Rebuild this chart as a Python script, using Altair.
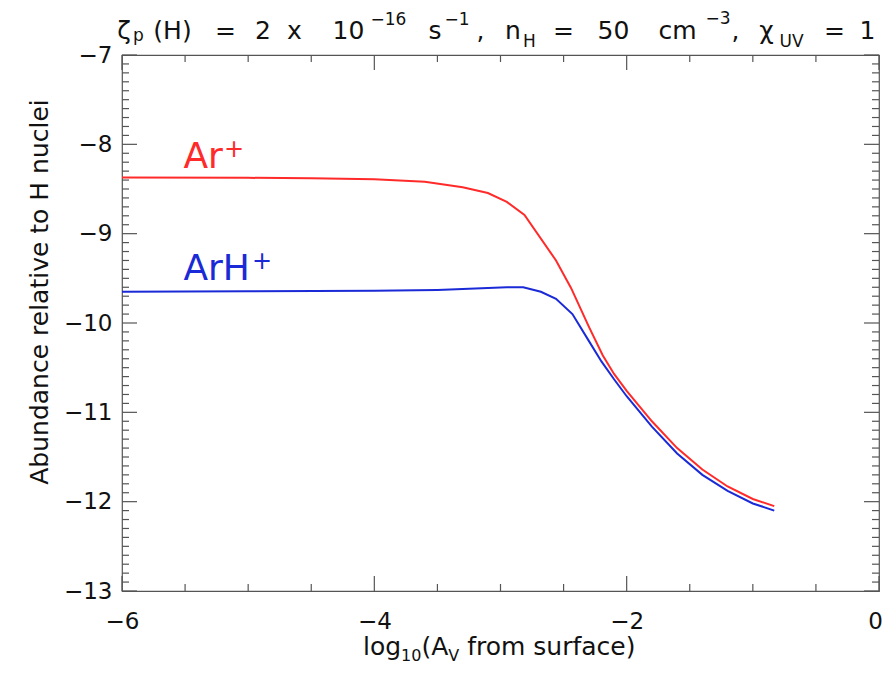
import altair as alt
import pandas as pd
import numpy as np

# ---------------- data ----------------
red_x = [-6.0, -5.0, -4.5, -4.0, -3.6, -3.3, -3.1, -2.95, -2.81, -2.56, -2.44, -2.3,
         -2.19, -2.1, -2.0, -1.8, -1.6, -1.4, -1.2, -1.0, -0.83]
red_y = [-8.37, -8.375, -8.38, -8.39, -8.42, -8.48, -8.545, -8.645, -8.79, -9.30, -9.61,
         -10.04, -10.36, -10.57, -10.76, -11.10, -11.40, -11.64, -11.83, -11.97, -12.05]

blue_x = [-6.0, -5.0, -4.0, -3.5, -3.2, -2.95, -2.82, -2.68, -2.56, -2.43, -2.3, -2.2,
          -2.1, -2.0, -1.8, -1.6, -1.4, -1.2, -1.0, -0.83]
blue_y = [-9.65, -9.645, -9.64, -9.63, -9.615, -9.60, -9.60, -9.65, -9.73, -9.90, -10.20,
          -10.43, -10.63, -10.82, -11.16, -11.46, -11.70, -11.88, -12.02, -12.10]

series_names = ["Ar+", "ArH+"]
series_colors = ["#ff2a2a", "#1a2ad6"]

x_major = [-6, -4, -2, 0]
x_minor = [-5.5, -5, -4.5, -3.5, -3, -2.5, -1.5, -1, -0.5]
y_major = [-13, -12, -11, -10, -9, -8, -7]
y_minor = [round(v, 1) for v in np.arange(-13, -7.0001, 0.1) if abs(v - round(v)) > 1e-6]

# ---------------- layout ----------------
W, H = 757, 536
FONT = "DejaVu Sans"
AX = "#555555"
TXT = "#111111"
MAJ, MIN = 15, 7

xs = alt.Scale(domain=[-6, 0], nice=False, zero=False)
ys = alt.Scale(domain=[-13, -7], nice=False, zero=False)

df = pd.concat([
    pd.DataFrame({"x": red_x, "y": red_y, "s": series_names[0]}),
    pd.DataFrame({"x": blue_x, "y": blue_y, "s": series_names[1]}),
])

lines = alt.Chart(df).mark_line(strokeWidth=2, clip=True).encode(
    x=alt.X("x:Q", scale=xs, axis=alt.Axis(
        values=x_major, format="d", ticks=False, domain=False, grid=False,
        labelFont=FONT, labelFontSize=23, labelPadding=19, labelColor=TXT,
        labelFlush=False, labelOverlap=False, labelBound=False,
        labelOffset={"condition": {"test": "datum.value == 0", "value": -4}, "value": 0},
        title=None)),
    y=alt.Y("y:Q", scale=ys, axis=alt.Axis(
        values=y_major, format="d", ticks=False, domain=False, grid=False,
        labelFont=FONT, labelFontSize=23, labelPadding=10, labelColor=TXT,
        labelFlush=False, labelOverlap=False, title=None)),
    color=alt.Color("s:N", scale=alt.Scale(domain=series_names, range=series_colors), legend=None),
)

layers = [lines]

def xticks(vals, ln):
    d = pd.DataFrame({"v": vals})
    bot = alt.Chart(d).mark_rule(color=AX, strokeWidth=1.2).encode(
        x=alt.X("v:Q", scale=xs), y=alt.value(H), y2=alt.value(H - ln))
    top = alt.Chart(d).mark_rule(color=AX, strokeWidth=1.2).encode(
        x=alt.X("v:Q", scale=xs), y=alt.value(0), y2=alt.value(ln))
    return [bot, top]

def yticks(vals, ln):
    d = pd.DataFrame({"v": vals})
    lft = alt.Chart(d).mark_rule(color=AX, strokeWidth=1.2).encode(
        y=alt.Y("v:Q", scale=ys), x=alt.value(0), x2=alt.value(ln))
    rgt = alt.Chart(d).mark_rule(color=AX, strokeWidth=1.2).encode(
        y=alt.Y("v:Q", scale=ys), x=alt.value(W), x2=alt.value(W - ln))
    return [lft, rgt]

layers += xticks(x_major, MAJ) + xticks(x_minor, MIN)
layers += yticks(y_major, MAJ) + yticks(y_minor, MIN)

# series labels (data coordinates)
def dtext(txt, x, y, size, color, align="left", baseline="alphabetic"):
    d = pd.DataFrame({"t": [txt], "x": [x], "y": [y]})
    return alt.Chart(d).mark_text(font=FONT, fontSize=size, color=color, align=align,
                                  baseline=baseline).encode(
        x=alt.X("x:Q", scale=xs), y=alt.Y("y:Q", scale=ys), text="t:N")

layers += [
    dtext("Ar", -5.513, -8.265, 36, series_colors[0]),
    dtext("+", -5.112, -8.14, 24, series_colors[0], align="center"),
    dtext("ArH", -5.513, -9.524, 36, series_colors[1]),
    dtext("+", -4.890, -9.40, 24, series_colors[1], align="center"),
]

# pixel-positioned text pieces (title, axis titles)
OX, OY = 122.5, 55

def ptext(txt, px, py, size, angle=0, align="center"):
    d = pd.DataFrame({"t": [txt]})
    return alt.Chart(d).mark_text(font=FONT, fontSize=size, color=TXT, align=align,
                                  baseline="alphabetic", angle=angle).encode(
        x=alt.value(px - OX), y=alt.value(py - OY), text="t:N")

# title: each piece centred where the reference shows it
TB, TS, SS = 38.5, 25, 17
title_parts = [
    ("ζ", 124.5, TB, TS), ("p", 139, 41, SS), ("(H)", 173, TB, TS),
    ("=", 226, TB, TS), ("2", 263.5, TB, TS), ("x", 295, TB, TS),
    ("10", 349, TB, TS), ("−16", 389, 25, SS), ("s", 435.5, TB, TS), ("−1", 457.5, 25, SS),
    (",", 481, TB, TS), ("n", 513.5, TB, TS), ("H", 530, 47, SS), ("=", 564, TB, TS),
    ("50", 614, TB, TS), ("cm", 678, TB, TS), ("−3", 718.5, 24, SS), (",", 736, TB, TS),
    ("χ", 767, TB, TS), ("UV", 792, 47, SS), ("=", 835, TB, TS), ("1", 868, TB, TS),
]
for t, px, py, sz in title_parts:
    layers.append(ptext(t, px, py, sz))

# x title: pieces laid out one after another (DejaVu Sans advance widths, em units)
ADV = {"l": .278, "o": .612, "g": .635, "1": .636, "0": .636, "(": .39, "A": .684, "V": .684,
       " ": .318, "f": .352, "r": .411, "m": .974, "s": .521, "u": .634, "a": .613, "c": .55,
       "e": .615, ")": .39}
XB, XS, XSS = 655, 25, 16
xt = [("log", XB, XS, 0), ("10", 661, XSS, 0), ("(A", XB, XS, 0), ("V", 661, XSS, 0),
      ("from surface)", XB, XS, ADV[" "] * XS)]
widths = [lead + sum(ADV[c] for c in t) * s for t, _, s, lead in xt]
cx = 500 - sum(widths) / 2
for (t, py, sz, lead), w in zip(xt, widths):
    layers.append(ptext(t, cx + lead, py, sz, align="left"))
    cx += w

layers.append(ptext("Abundance relative to H nuclei", 48, 292, 25, angle=270))

chart = alt.layer(*layers).properties(
    width=W, height=H,
    padding={"left": 114, "top": 47, "right": 4, "bottom": 70},
    autosize=alt.AutoSizeParams(type="none"),
).configure_view(stroke=AX, strokeWidth=1.2)

chart.save("out.html", embed_options={"renderer": "svg", "actions": False})
